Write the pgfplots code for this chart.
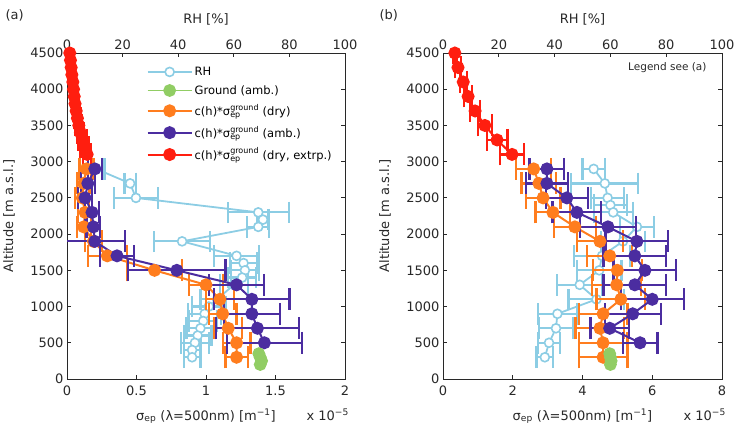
\documentclass[border=0pt]{standalone}
\usepackage{fontspec}
\setmainfont{DejaVu Sans}
\usepackage{pgfplots}
\pgfplotsset{compat=1.18}
\definecolor{rhc}{RGB}{140,205,228}
\definecolor{grc}{RGB}{145,205,100}
\definecolor{orc}{RGB}{255,125,30}
\definecolor{blc}{RGB}{75,45,160}
\definecolor{rdc}{RGB}{255,30,15}
\definecolor{axc}{RGB}{40,40,40}
\newcommand{\sig}{σ$^{\hbox{\fontsize{8}{8}\selectfont ground}}_{\hbox{\fontsize{8}{8}\selectfont ep}}$}
\pgfplotsset{
  /pgf/number format/assume math mode=true,
  /pgf/number format/1000 sep={},
  base/.style={scale only axis, width=278pt, height=326pt, ymin=0, ymax=4500,
     scaled ticks=false,
     tick label style={font=\fontsize{13}{15}\selectfont, text=axc},
     axis line style={axc, line width=0.9pt},
     major tick length=4pt, tick style={axc, line width=0.9pt}},
  ebc/.style 2 args={/pgfplots/error bars/x dir=both, /pgfplots/error bars/x explicit,
     /pgfplots/error bars/error bar style={#1, line width=2.2pt},
     /pgfplots/error bars/error mark=|,
     /pgfplots/error bars/error mark options={#1, line width=2.2pt, scale=#2}},
  rh/.style={rhc, line width=1.8pt, mark=*, mark size=4.5pt, mark options={fill=white, line width=1.6pt}},
  gr/.style={grc, line width=1.8pt, mark=*, mark size=5.5pt},
  or/.style={orc, line width=2pt, mark=*, mark size=5.5pt},
  bl/.style={blc, line width=2pt, mark=*, mark size=5.5pt},
  rd/.style={rdc, line width=2pt, mark=*, mark size=5.5pt},
}
\begin{document}
\begin{tikzpicture}
% ---------------- Panel (a) ----------------
\begin{axis}[base, at={(67pt,45pt)}, anchor=south west, xmin=0, xmax=100,
  axis x line*=top, hide y axis, xtick={0,20,...,100}]
\addplot[rh, ebc={rhc}{2.4}] coordinates {
(10.5,2900) +- (3,0)
(22.7,2700) +- (2,0)
(24.8,2500) +- (8,0)
(68.8,2300) +- (11,0)
(70.5,2200) +- (2,0)
(68.8,2100) +- (4,0)
(41.4,1900) +- (10,0)
(61,1700) +- (8,0)
(63.5,1600) +- (5,0)
(64,1500) +- (5,0)
(63,1400) +- (5,0)
(60,1300) +- (5,0)
(54,1100) +- (6,0)
(51,1000) +- (6,0)
(49.5,900) +- (6,0)
(49,800) +- (5,0)
(48,700) +- (5,0)
(47,600) +- (5,0)
(46,500) +- (5,0)
(45,400) +- (3,0)
(45,300) +- (3,0)
};
\end{axis}
\begin{axis}[base, name=a, at={(67pt,45pt)}, anchor=south west, xmin=0, xmax=2,
  xtick={0,0.5,1,1.5,2}, xtick pos=bottom, ytick={0,500,...,4500},
  xticklabel style={yshift=-3pt},
  legend style={at={(axis description cs:0.275,0.97)}, anchor=north west, draw=none, fill=none,
     font=\fontsize{11.5}{13}\selectfont, cells={anchor=west}, row sep=4.5pt},
  legend image code/.code={\draw[mark repeat=2,mark phase=2,#1] plot coordinates {(0pt,0pt) (22pt,0pt) (44pt,0pt)};}]
\addlegendimage{rh}
\addlegendentry{RH}
\addlegendimage{gr}
\addlegendentry{Ground (amb.)}
\addlegendimage{or}
\addlegendentry{c(h)*\sig{} (dry)}
\addlegendimage{bl}
\addlegendentry{c(h)*\sig{} (amb.)}
\addlegendimage{rd}
\addlegendentry{c(h)*\sig{} (dry, extrp.)}
\addplot[or, ebc={orc}{2}, forget plot] coordinates {
(0.14,2900) +- (0.05,0)
(0.12,2700) +- (0.05,0)
(0.11,2500) +- (0.05,0)
(0.13,2300) +- (0.05,0)
(0.12,2100) +- (0.05,0)
(0.19,1900) +- (0.06,0)
(0.29,1700) +- (0.14,0)
(0.63,1500) +- (0.2,0)
(1.00,1300) +- (0.12,0)
(1.10,1100) +- (0.1,0)
(1.12,900) +- (0.1,0)
(1.16,700) +- (0.1,0)
(1.22,500) +- (0.1,0)
(1.22,300) +- (0.08,0)
};
\addplot[bl, ebc={blc}{2}, forget plot] coordinates {
(0.20,2900) +- (0.05,0)
(0.15,2700) +- (0.05,0)
(0.13,2500) +- (0.05,0)
(0.18,2300) +- (0.05,0)
(0.19,2100) +- (0.05,0)
(0.20,1900) +- (0.22,0)
(0.36,1700) +- (0.12,0)
(0.79,1500) +- (0.35,0)
(1.22,1300) +- (0.2,0)
(1.33,1100) +- (0.27,0)
(1.33,900) +- (0.2,0)
(1.37,700) +- (0.3,0)
(1.42,500) +- (0.27,0)
};
\addplot[rd, ebc={rdc}{2}, forget plot] coordinates {
(0.020,4500) +- (0.015,0)
(0.025,4400) +- (0.015,0)
(0.030,4300) +- (0.015,0)
(0.035,4200) +- (0.02,0)
(0.042,4100) +- (0.02,0)
(0.047,4000) +- (0.02,0)
(0.052,3900) +- (0.02,0)
(0.058,3800) +- (0.02,0)
(0.066,3700) +- (0.02,0)
(0.075,3600) +- (0.025,0)
(0.085,3500) +- (0.025,0)
(0.097,3400) +- (0.025,0)
(0.112,3300) +- (0.03,0)
(0.127,3200) +- (0.03,0)
(0.145,3100) +- (0.03,0)
};
\addplot[gr, forget plot] coordinates {(1.39,200) (1.40,250) (1.39,300) (1.38,350)};
\end{axis}
\node[anchor=base west, font=\fontsize{13}{15}\selectfont, text=axc] at (2pt,404pt) {(a)};
\node[anchor=base, font=\fontsize{13}{15}\selectfont, text=axc] at ([yshift=30pt]a.north) {RH [\%]};
\node[rotate=90, font=\fontsize{13}{15}\selectfont, text=axc] at ([xshift=-58pt]a.west) {Altitude [m a.s.l.]};
\node[anchor=north, inner sep=0pt, font=\fontsize{13}{15}\selectfont, text=axc] at ([yshift=-30pt]a.south) {σ\textsubscript{ep} (λ=500nm) [m\textsuperscript{−1}]};
\node[anchor=north east, inner sep=0pt, font=\fontsize{13}{15}\selectfont, text=axc] at ([xshift=4pt,yshift=-30pt]a.south east) {x 10\textsuperscript{−5}};
% ---------------- Panel (b) ----------------
\begin{axis}[base, at={(443pt,45pt)}, anchor=south west, width=279pt, xmin=0, xmax=100,
  axis x line*=top, hide y axis, xtick={0,20,...,100}]
\addplot[rh, ebc={rhc}{2.4}] coordinates {
(54,2900) +- (4,0)
(58,2700) +- (12,0)
(59,2500) +- (6,0)
(60,2400) +- (6,0)
(61,2300) +- (7,0)
(69.5,2100) +- (6,0)
(64.5,1900) +- (8,0)
(57,1700) +- (10,0)
(56,1500) +- (8,0)
(49,1300) +- (8,0)
(55,1100) +- (10,0)
(41,900) +- (7,0)
(40.5,700) +- (6,0)
(38,500) +- (4,0)
(36.5,300) +- (3,0)
};
\end{axis}
\begin{axis}[base, name=b, at={(443pt,45pt)}, anchor=south west, width=279pt, xmin=0, xmax=8,
  xtick={0,2,4,6,8}, xtick pos=bottom, ytick={0,500,...,4500},
  xticklabel style={yshift=-3pt}]
\addplot[or, ebc={orc}{2}] coordinates {
(2.60,2900) +- (0.5,0)
(2.75,2700) +- (0.5,0)
(2.87,2500) +- (0.5,0)
(3.15,2300) +- (0.5,0)
(3.78,2100) +- (0.6,0)
(4.50,1900) +- (0.65,0)
(4.78,1700) +- (0.65,0)
(5.00,1500) +- (0.7,0)
(4.98,1300) +- (0.7,0)
(5.10,1100) +- (0.7,0)
(4.59,900) +- (0.7,0)
(4.50,700) +- (0.7,0)
(4.59,500) +- (0.7,0)
(4.59,300) +- (0.7,0)
};
\addplot[bl, ebc={blc}{2}] coordinates {
(2.98,2900) +- (0.5,0)
(2.98,2700) +- (0.6,0)
(3.55,2500) +- (0.6,0)
(3.84,2300) +- (0.7,0)
(4.73,2100) +- (0.8,0)
(5.56,1900) +- (0.9,0)
(5.50,1700) +- (0.9,0)
(5.79,1500) +- (0.9,0)
(5.50,1300) +- (0.9,0)
(6.00,1100) +- (0.9,0)
(5.44,900) +- (0.8,0)
(4.78,700) +- (0.55,0)
(5.65,500) +- (0.5,0)
};
\addplot[rd, ebc={rdc}{2}] coordinates {
(0.34,4500) +- (0.05,0)
(0.43,4300) +- (0.08,0)
(0.58,4100) +- (0.1,0)
(0.72,3900) +- (0.12,0)
(0.92,3700) +- (0.15,0)
(1.20,3500) +- (0.2,0)
(1.55,3300) +- (0.3,0)
(1.98,3100) +- (0.35,0)
};
\addplot[gr] coordinates {(4.80,200) (4.82,250) (4.80,300) (4.78,350)};
\end{axis}
\node[anchor=base west, font=\fontsize{13}{15}\selectfont, text=axc] at (376pt,404pt) {(b)};
\node[anchor=base, font=\fontsize{13}{15}\selectfont, text=axc] at ([yshift=30pt]b.north) {RH [\%]};
\node[rotate=90, font=\fontsize{13}{15}\selectfont, text=axc] at ([xshift=-58pt]b.west) {Altitude [m a.s.l.]};
\node[anchor=north, inner sep=0pt, font=\fontsize{13}{15}\selectfont, text=axc] at ([yshift=-30pt]b.south) {σ\textsubscript{ep} (λ=500nm) [m\textsuperscript{−1}]};
\node[anchor=north east, inner sep=0pt, font=\fontsize{13}{15}\selectfont, text=axc] at ([xshift=4pt,yshift=-30pt]b.south east) {x 10\textsuperscript{−5}};
\node[anchor=north east, font=\fontsize{10.5}{12}\selectfont, text=axc] at ([xshift=-12pt,yshift=-6pt]b.north east) {Legend see (a)};
\pgfresetboundingbox
\path[use as bounding box] (0,0) rectangle (735pt,424pt);
\end{tikzpicture}
\end{document}
